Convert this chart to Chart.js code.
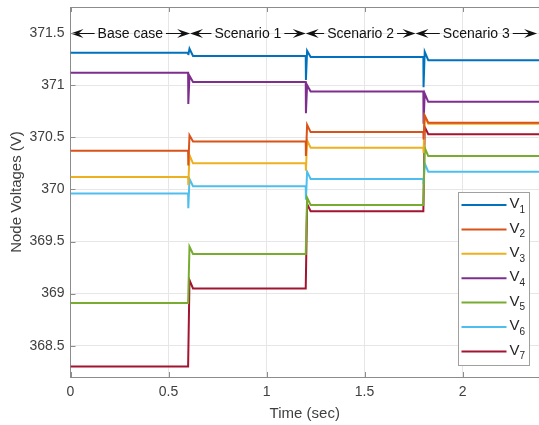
<!DOCTYPE html>
<html>
<head>
<meta charset="utf-8">
<script src="https://cdn.jsdelivr.net/npm/chart.js@4.4.0/dist/chart.umd.min.js"></script>
<style>
  html, body { margin: 0; padding: 0; background: #fff; }
</style>
</head>
<body>
<canvas id="c" width="539" height="425"></canvas>
<script>
// time stamps (sec): steady state, switch, dip, peak, settled
const time = [0, 0.6, 0.601, 0.607, 0.625, 1.2, 1.201, 1.207, 1.225, 1.8, 1.801, 1.807, 1.825, 2.4];

const v1 = [371.31, 371.31, 371.29, 371.35, 371.28, 371.28, 371.05, 371.33, 371.27, 371.27, 370.98, 371.32, 371.24, 371.24];
const v2 = [370.37, 370.37, 370.23, 370.52, 370.46, 370.46, 370.32, 370.62, 370.55, 370.55, 370.48, 370.71, 370.64, 370.64];
const v3 = [370.12, 370.12, 370.04, 370.33, 370.25, 370.25, 370.18, 370.47, 370.40, 370.40, 370.35, 370.70, 370.63, 370.63];
const v4 = [371.12, 371.12, 370.82, 371.09, 371.03, 371.03, 370.73, 371.00, 370.94, 370.94, 370.63, 370.92, 370.84, 370.84];
const v5 = [368.91, 368.91, 368.91, 369.45, 369.38, 369.38, 369.38, 369.92, 369.85, 369.85, 369.85, 370.40, 370.32, 370.32];
const v6 = [369.96, 369.96, 369.82, 370.10, 370.03, 370.03, 369.90, 370.17, 370.10, 370.10, 370.05, 370.25, 370.17, 370.17];
const v7 = [368.30, 368.30, 368.30, 369.13, 369.05, 369.05, 369.05, 369.86, 369.79, 369.79, 369.79, 370.60, 370.53, 370.53];

const seriesNames = ['1', '2', '3', '4', '5', '6', '7'];   // V subscripts
const seriesColors = ['#0072BD', '#D95319', '#EDB120', '#7E2F8E', '#77AC30', '#4DBEEE', '#A2142F'];

const xTicks = [0, 0.5, 1, 1.5, 2];
const yTicks = [368.5, 369, 369.5, 370, 370.5, 371, 371.5];

const scenarioLabels = ['Base case', 'Scenario 1', 'Scenario 2', 'Scenario 3'];
const scenarioBounds = [0, 0.61, 1.2, 1.76, 2.38];
const scenarioLevel = 371.5;

const allSeries = [v1, v2, v3, v4, v5, v6, v7];
const textColor = '#404040';
const axisColor = '#8c8c8c';
const fontFamily = '"Liberation Sans", Arial, sans-serif';

function arrowHead(ctx, x, y, dir) {
  // dir = -1 points left, +1 points right
  ctx.beginPath();
  ctx.moveTo(x, y);
  ctx.lineTo(x - dir * 13, y - 4.5);
  ctx.lineTo(x - dir * 8, y);
  ctx.lineTo(x - dir * 13, y + 4.5);
  ctx.closePath();
  ctx.fill();
}

const framePlugin = {
  id: 'frame',
  afterDraw(chart) {
    const { ctx, chartArea: a, scales } = chart;
    ctx.save();
    ctx.strokeStyle = axisColor;
    ctx.lineWidth = 1;
    ctx.beginPath();
    ctx.moveTo(a.left, a.top + 0.5);
    ctx.lineTo(a.right, a.top + 0.5);
    xTicks.forEach(t => {
      const px = Math.round(scales.x.getPixelForValue(t)) + 0.5;
      ctx.moveTo(px, a.bottom); ctx.lineTo(px, a.bottom - 5);
      ctx.moveTo(px, a.top); ctx.lineTo(px, a.top + 5);
    });
    yTicks.forEach(t => {
      const py = Math.round(scales.y.getPixelForValue(t)) + 0.5;
      ctx.moveTo(a.left, py); ctx.lineTo(a.left + 5, py);
    });
    ctx.stroke();
    ctx.restore();
  }
};

const scenarioPlugin = {
  id: 'scenarios',
  afterDatasetsDraw(chart) {
    const { ctx, scales } = chart;
    const y = Math.round(scales.y.getPixelForValue(scenarioLevel)) + 0.5;
    ctx.save();
    ctx.font = '14px ' + fontFamily;
    ctx.textAlign = 'center';
    ctx.textBaseline = 'middle';
    ctx.fillStyle = '#111';
    ctx.strokeStyle = '#111';
    ctx.lineWidth = 1;
    scenarioLabels.forEach((lab, i) => {
      const xa = scales.x.getPixelForValue(scenarioBounds[i]);
      const xb = scales.x.getPixelForValue(scenarioBounds[i + 1]);
      const cx = (xa + xb) / 2;
      const w = ctx.measureText(lab).width;
      ctx.fillText(lab, cx, y + 1);
      ctx.beginPath();
      ctx.moveTo(xa + 8, y); ctx.lineTo(cx - w / 2 - 3, y);
      ctx.moveTo(cx + w / 2 + 3, y); ctx.lineTo(xb - 8, y);
      ctx.stroke();
      arrowHead(ctx, xa, y, -1);
      arrowHead(ctx, xb, y, 1);
    });
    ctx.restore();
  }
};

const legendPlugin = {
  id: 'voltLegend',
  afterDraw(chart) {
    const { ctx } = chart;
    const bx = 458.5, by = 192.5, bw = 71, bh = 173, step = 24.4;
    ctx.save();
    ctx.fillStyle = '#fff';
    ctx.fillRect(bx, by, bw, bh);
    ctx.strokeStyle = '#a0a0a0';
    ctx.lineWidth = 1;
    ctx.strokeRect(bx, by, bw, bh);
    seriesNames.forEach((n, i) => {
      const yy = by + 12.5 + i * step;
      ctx.strokeStyle = seriesColors[i];
      ctx.lineWidth = 2;
      ctx.beginPath();
      ctx.moveTo(bx + 3, yy); ctx.lineTo(bx + 48, yy);
      ctx.stroke();
      ctx.fillStyle = '#262626';
      ctx.textBaseline = 'middle';
      ctx.textAlign = 'left';
      ctx.font = '15px ' + fontFamily;
      ctx.fillText('V', bx + 51, yy - 1);
      ctx.font = '10px ' + fontFamily;
      ctx.fillText(n, bx + 61, yy + 5);
    });
    ctx.restore();
  }
};

new Chart(document.getElementById('c'), {
  type: 'line',
  data: {
    datasets: allSeries.map((s, i) => ({
      label: 'V' + seriesNames[i],
      data: time.map((t, k) => ({ x: t, y: s[k] })),
      borderColor: seriesColors[i],
      backgroundColor: seriesColors[i],
      borderWidth: 2,
      pointRadius: 0,
      tension: 0,
      fill: false
    }))
  },
  options: {
    responsive: false,
    animation: false,
    devicePixelRatio: 1,
    layout: { padding: { top: 7, left: 0, right: 0, bottom: 0 } },
    plugins: {
      legend: { display: false },
      tooltip: { enabled: false }
    },
    scales: {
      x: {
        type: 'linear',
        min: 0,
        max: 2.39,
        afterBuildTicks: scale => { scale.ticks = xTicks.map(v => ({ value: v })); },
        afterFit: scale => { scale.height = 48; scale.paddingLeft = 0; scale.paddingRight = 0; },
        ticks: {
          color: textColor,
          font: { size: 14, family: fontFamily },
          padding: 7,
          maxRotation: 0,
          autoSkip: false,
          callback: v => String(v)
        },
        grid: { color: '#e6e6e6', drawTicks: false },
        border: { color: axisColor },
        title: {
          display: true,
          text: 'Time (sec)',
          color: textColor,
          font: { size: 15, family: fontFamily },
          padding: { top: 2, bottom: 2 }
        }
      },
      y: {
        type: 'linear',
        min: 368.2,
        max: 371.75,
        afterBuildTicks: scale => { scale.ticks = yTicks.map(v => ({ value: v })); },
        afterFit: scale => { scale.width = 70.5; scale.paddingTop = 0; scale.paddingBottom = 0; },
        ticks: {
          color: textColor,
          font: { size: 14, family: fontFamily },
          padding: 6,
          callback: v => String(v)
        },
        grid: { color: '#e6e6e6', drawTicks: false },
        border: { color: axisColor },
        title: {
          display: true,
          text: 'Node Voltages (V)',
          color: textColor,
          font: { size: 15, family: fontFamily },
          padding: { top: 8, bottom: 0 }
        }
      }
    }
  },
  plugins: [framePlugin, scenarioPlugin, legendPlugin]
});
</script>
</body>
</html>
